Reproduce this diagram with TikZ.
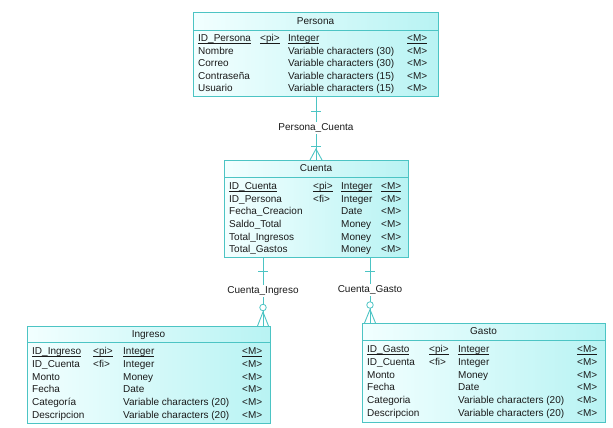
\documentclass[tikz,border=0pt]{standalone}
\usepackage{fontspec}
\setmainfont{Liberation Sans}
\definecolor{edge}{HTML}{4CC4C4}
\definecolor{fillL}{HTML}{F2FFFF}
\definecolor{fillR}{HTML}{B8F3F3}
\definecolor{txt}{HTML}{1A1A1A}
\newcommand\myul[1]{\setbox0\hbox{#1}\rlap{\rule[-1.7pt]{\wd0}{0.55pt}}\box0}
\begin{document}
\begin{tikzpicture}[x=1pt,y=-1pt,
  ent/.style={draw=edge,line width=0.9pt,left color=fillL,right color=fillR,
    inner sep=0pt,anchor=north west},
  sepline/.style={draw=edge,line width=0.8pt},
  conn/.style={draw=edge,line width=0.9pt},
  t/.style={anchor=base west,inner sep=0pt,text=txt,font=\fontsize{10}{12}\selectfont},
  ttl/.style={anchor=base,inner sep=0pt,text=txt,font=\fontsize{10}{12}\selectfont},
  rel/.style={inner sep=1.5pt,text=txt,font=\fontsize{10}{12}\selectfont},
  oc/.style={draw=edge,line width=0.8pt,fill=white}]
\useasboundingbox (0,0) rectangle (613,428);

% ---------- Persona ----------
\node[ent,minimum width=245pt,minimum height=84pt] (persona) at (193,12) {};
\draw[sepline] ([yshift=-18pt]persona.north west) -- ([yshift=-18pt]persona.north east);
\node[ttl] (personaT) at (315.5,24.6) {Persona};
\node[t] (p1a) at (198,41.6) {\myul{ID\_Persona}};
\node[t] (p1b) at (260,41.6) {\myul{<pi>}};
\node[t] (p1c) at (288,41.6) {\myul{Integer}};
\node[t] (p1d) at (407,41.6) {\myul{<M>}};
\node[t] (p2a) at (198,54.2) {Nombre};
\node[t] (p2c) at (288,54.2) {Variable characters (30)};
\node[t] (p2d) at (407,54.2) {<M>};
\node[t] (p3a) at (198,66.8) {Correo};
\node[t] (p3c) at (288,66.8) {Variable characters (30)};
\node[t] (p3d) at (407,66.8) {<M>};
\node[t] (p4a) at (198,79.4) {Contraseña};
\node[t] (p4c) at (288,79.4) {Variable characters (15)};
\node[t] (p4d) at (407,79.4) {<M>};
\node[t] (p5a) at (198,92) {Usuario};
\node[t] (p5c) at (288,92) {Variable characters (15)};
\node[t] (p5d) at (407,92) {<M>};

% ---------- Cuenta ----------
\node[ent,minimum width=184pt,minimum height=97pt] (cuenta) at (224,160) {};
\draw[sepline] ([yshift=-17pt]cuenta.north west) -- ([yshift=-17pt]cuenta.north east);
\node[ttl] (cuentaT) at (316,171.8) {Cuenta};
\node[t] (c1a) at (229,189.6) {\myul{ID\_Cuenta}};
\node[t] (c1b) at (313,189.6) {\myul{<pi>}};
\node[t] (c1c) at (341,189.6) {\myul{Integer}};
\node[t] (c1d) at (381,189.6) {\myul{<M>}};
\node[t] (c2a) at (229,202.2) {ID\_Persona};
\node[t] (c2b) at (313,202.2) {<fi>};
\node[t] (c2c) at (341,202.2) {Integer};
\node[t] (c2d) at (381,202.2) {<M>};
\node[t] (c3a) at (229,214.8) {Fecha\_Creacion};
\node[t] (c3c) at (341,214.8) {Date};
\node[t] (c3d) at (381,214.8) {<M>};
\node[t] (c4a) at (229,227.4) {Saldo\_Total};
\node[t] (c4c) at (341,227.4) {Money};
\node[t] (c4d) at (381,227.4) {<M>};
\node[t] (c5a) at (229,240) {Total\_Ingresos};
\node[t] (c5c) at (341,240) {Money};
\node[t] (c5d) at (381,240) {<M>};
\node[t] (c6a) at (229,252.6) {Total\_Gastos};
\node[t] (c6c) at (341,252.6) {Money};
\node[t] (c6d) at (381,252.6) {<M>};

% ---------- Ingreso ----------
\node[ent,minimum width=243pt,minimum height=97pt] (ingreso) at (27,326) {};
\draw[sepline] ([yshift=-16pt]ingreso.north west) -- ([yshift=-16pt]ingreso.north east);
\node[ttl] (ingresoT) at (148.5,337.6) {Ingreso};
\node[t] (i1a) at (32,354.6) {\myul{ID\_Ingreso}};
\node[t] (i1b) at (93,354.6) {\myul{<pi>}};
\node[t] (i1c) at (123,354.6) {\myul{Integer}};
\node[t] (i1d) at (242,354.6) {\myul{<M>}};
\node[t] (i2a) at (32,367.3) {ID\_Cuenta};
\node[t] (i2b) at (93,367.3) {<fi>};
\node[t] (i2c) at (123,367.3) {Integer};
\node[t] (i2d) at (242,367.3) {<M>};
\node[t] (i3a) at (32,380) {Monto};
\node[t] (i3c) at (123,380) {Money};
\node[t] (i3d) at (242,380) {<M>};
\node[t] (i4a) at (32,392.7) {Fecha};
\node[t] (i4c) at (123,392.7) {Date};
\node[t] (i4d) at (242,392.7) {<M>};
\node[t] (i5a) at (32,405.4) {Categoría};
\node[t] (i5c) at (123,405.4) {Variable characters (20)};
\node[t] (i5d) at (242,405.4) {<M>};
\node[t] (i6a) at (32,418.1) {Descripcion};
\node[t] (i6c) at (123,418.1) {Variable characters (20)};
\node[t] (i6d) at (242,418.1) {<M>};

% ---------- Gasto ----------
\node[ent,minimum width=243pt,minimum height=99pt] (gasto) at (362,323) {};
\draw[sepline] ([yshift=-17pt]gasto.north west) -- ([yshift=-17pt]gasto.north east);
\node[ttl] (gastoT) at (483.5,334.6) {Gasto};
\node[t] (g1a) at (367,352.6) {\myul{ID\_Gasto}};
\node[t] (g1b) at (429,352.6) {\myul{<pi>}};
\node[t] (g1c) at (458,352.6) {\myul{Integer}};
\node[t] (g1d) at (577,352.6) {\myul{<M>}};
\node[t] (g2a) at (367,365.3) {ID\_Cuenta};
\node[t] (g2b) at (429,365.3) {<fi>};
\node[t] (g2c) at (458,365.3) {Integer};
\node[t] (g2d) at (577,365.3) {<M>};
\node[t] (g3a) at (367,378) {Monto};
\node[t] (g3c) at (458,378) {Money};
\node[t] (g3d) at (577,378) {<M>};
\node[t] (g4a) at (367,390.7) {Fecha};
\node[t] (g4c) at (458,390.7) {Date};
\node[t] (g4d) at (577,390.7) {<M>};
\node[t] (g5a) at (367,403.4) {Categoria};
\node[t] (g5c) at (458,403.4) {Variable characters (20)};
\node[t] (g5d) at (577,403.4) {<M>};
\node[t] (g6a) at (367,416.1) {Descripcion};
\node[t] (g6c) at (458,416.1) {Variable characters (20)};
\node[t] (g6d) at (577,416.1) {<M>};

% ---------- Persona_Cuenta ----------
\node[rel] (pc) at (316,128) {Persona\_Cuenta};
\draw[conn] (pc |- persona.south) -- (pc.north);
\draw[conn] (pc.south) -- (pc |- cuenta.north);
\coordinate (pct) at (316,111);
\coordinate (pcb) at (316,146.5);
\coordinate (pcf) at (316,149);
\draw[conn] ([xshift=-5pt]pct) -- ([xshift=5pt]pct);
\draw[conn] ([xshift=-5pt]pcb) -- ([xshift=5pt]pcb);
\draw[conn] ([xshift=-6pt]pc |- cuenta.north) -- (pcf) -- ([xshift=6pt]pc |- cuenta.north);

% ---------- Cuenta_Ingreso ----------
\node[rel] (ci) at (263,291) {Cuenta\_Ingreso};
\draw[conn] (ci |- cuenta.south) -- (ci.north);
\draw[conn] (ci.south) -- (ci |- ingreso.north);
\coordinate (cit) at (263,271);
\coordinate (cif) at (263,312);
\draw[conn] ([xshift=-5pt]cit) -- ([xshift=5pt]cit);
\node[oc,circle,minimum size=6.5pt,inner sep=0pt] (cio) at (263,307.5) {};
\draw[conn] ([xshift=-5.5pt]ci |- ingreso.north) -- (cif) -- ([xshift=5.5pt]ci |- ingreso.north);

% ---------- Cuenta_Gasto ----------
\node[rel] (cg) at (370,290) {Cuenta\_Gasto};
\draw[conn] (cg |- cuenta.south) -- (cg.north);
\draw[conn] (cg.south) -- (cg |- gasto.north);
\coordinate (cgt) at (370,271);
\coordinate (cgf) at (370,309.5);
\draw[conn] ([xshift=-5pt]cgt) -- ([xshift=5pt]cgt);
\node[oc,circle,minimum size=6.5pt,inner sep=0pt] (cgo) at (370,305) {};
\draw[conn] ([xshift=-5.5pt]cg |- gasto.north) -- (cgf) -- ([xshift=5.5pt]cg |- gasto.north);
\end{tikzpicture}
\end{document}
